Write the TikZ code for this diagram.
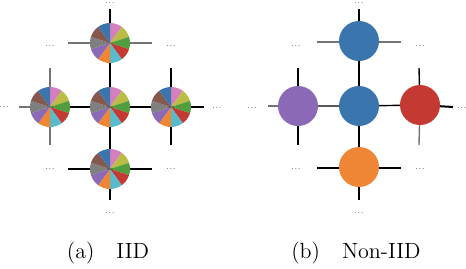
\documentclass[tikz,border=0pt]{standalone}
\usepackage{xcolor}
\usepackage{tikz}
\usetikzlibrary{backgrounds}
\definecolor{pieBlue}{HTML}{3A75AE}
\definecolor{pieOrange}{HTML}{EE8636}
\definecolor{pieGreen}{HTML}{519E3E}
\definecolor{pieRed}{HTML}{C43A32}
\definecolor{piePurple}{HTML}{8C69B6}
\definecolor{pieBrown}{HTML}{84584E}
\definecolor{piePink}{HTML}{D57FBF}
\definecolor{pieGray}{HTML}{7F7F7F}
\definecolor{pieOlive}{HTML}{BBBC46}
\definecolor{pieCyan}{HTML}{58BBCC}
\tikzset{
  client/.style={circle, minimum size=20pt, inner sep=0pt},
  link/.style={line width=0.7pt, draw=black},
  glink/.style={line width=0.7pt, draw=black!55},
  dots/.style={font=\fontsize{4}{4}\selectfont, inner sep=0pt},
  subcap/.style={font=\fontsize{11}{13}\selectfont, inner sep=0pt}
}
% ten equal slices, clockwise from the top
\newcommand{\mixpie}[1]{%
  \foreach \col [count=\i from 0] in {piePink,pieOlive,pieGreen,pieRed,pieCyan,
                                      pieOrange,piePurple,pieGray,pieBrown,pieBlue}
    \fill[\col] (#1.center) -- ++(90-36*\i:10pt) arc[start angle=90-36*\i,
        end angle=54-36*\i, radius=10pt] -- cycle;}

\begin{document}
\begin{tikzpicture}[x=0.5pt, y=-0.5pt]
\useasboundingbox (0,0) rectangle (466,268);

% (a) IID
\node[client] (aC) at (110,107) {};
\node[client] (aT) at (110,43) {};
\node[client] (aL) at (50,107) {};
\node[client] (aR) at (171,107) {};
\node[client] (aB) at (110,169) {};
\coordinate (aTt) at (110,9);   \coordinate (aTl) at (68,43);   \coordinate (aTr) at (152,43);
\coordinate (aLl) at (19,107);  \coordinate (aLt) at (50,68);   \coordinate (aLb) at (50,145);
\coordinate (aRr) at (204,107); \coordinate (aRt) at (171,68);  \coordinate (aRb) at (171,145);
\coordinate (aBl) at (68,169);  \coordinate (aBr) at (152,169); \coordinate (aBb) at (110,200);

% (b) Non-IID
\node[client, fill=pieBlue] (bC) at (359,106) {};
\node[client, fill=pieBlue] (bT) at (359,41) {};
\node[client, fill=piePurple] (bL) at (298,106) {};
\node[client, fill=pieRed] (bR) at (420,105) {};
\node[client, fill=pieOrange] (bB) at (359,167) {};
\coordinate (bTt) at (359,9);   \coordinate (bTl) at (317,42);  \coordinate (bTr) at (401,42);
\coordinate (bLl) at (268,106); \coordinate (bLt) at (298,68);  \coordinate (bLb) at (298,145);
\coordinate (bRr) at (453,107); \coordinate (bRt) at (419,68);  \coordinate (bRb) at (419,145);
\coordinate (bBl) at (317,168); \coordinate (bBr) at (401,168); \coordinate (bBb) at (359,200);

\begin{scope}[on background layer]
\draw[link] (aTt) -- (aT.center) -- (aC.center) -- (aB.center) -- (aBb);
\draw[glink] (aTl) -- (aTr);
\draw[link] (aBl) -- (aBr);
\draw[glink] (aLl) -- (aL.center);
\draw[link] (aL.center) -- (aC.center) -- (aR.center);
\draw[line width=1pt] (aR.center) -- (aRr);
\draw[glink] (aLt) -- (aLb);
\draw[link] (aRt) -- (aRb);

\draw[link] (bTt) -- (bT.center);
\draw[line width=1pt] (bT.center) -- (bC.center);
\draw[link] (bC.center) -- (bB.center) -- (bBb);
\draw[glink] (bTl) -- (bTr);
\draw[link] (bBl) -- (bBr);
\draw[glink] (bLl) -- (bL.center);
\draw[link] (bL.center) -- (bC.center) -- (bR.center);
\draw[line width=1pt] (bR.center) -- (bRr);
\draw[link] (bLt) -- (bLb);
\draw[link] (bRt) -- (bR.center);
\draw[glink] (bR.center) -- (bRb);
\end{scope}

\mixpie{aC} \mixpie{aT} \mixpie{aL} \mixpie{aR} \mixpie{aB}

\node[dots] (aDt) at (110,3) {...};
\node[dots] (aDtl) at (50,46) {...};
\node[dots] (aDtr) at (171,46) {...};
\node[dots] (aDl) at (4,107) {...};
\node[dots] (aDr) at (217,108) {...};
\node[dots] (aDbl) at (50,169) {...};
\node[dots] (aDbr) at (171,169) {...};
\node[dots] (aDb) at (110,213) {...};

\node[dots] (bDt) at (359,3) {...};
\node[dots] (bDtl) at (296,46) {...};
\node[dots] (bDtr) at (420,46) {...};
\node[dots] (bDl) at (252,108) {...};
\node[dots] (bDr) at (462,108) {...};
\node[dots] (bDbl) at (296,169) {...};
\node[dots] (bDbr) at (420,169) {...};
\node[dots] (bDb) at (359,213) {...};

\node[subcap] (capA) at (108,253) {(a)\quad IID};
\node[subcap] (capB) at (356,253) {(b)\quad Non-IID};
\end{tikzpicture}
\end{document}
